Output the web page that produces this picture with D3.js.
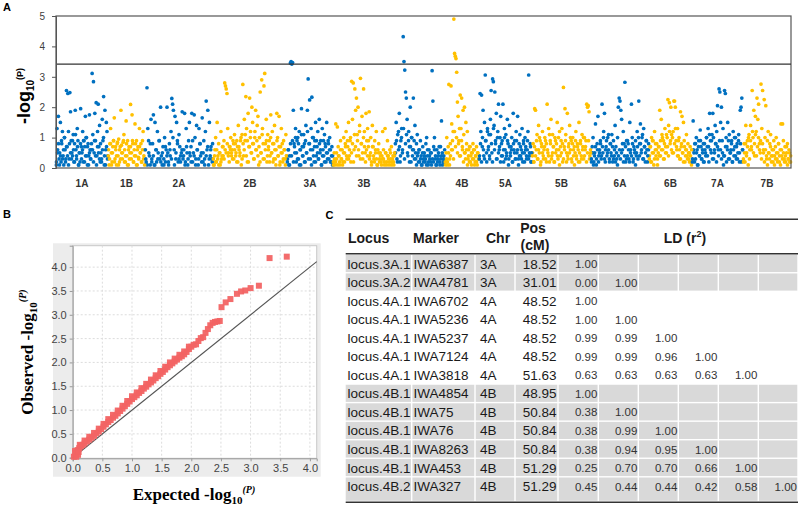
<!DOCTYPE html>
<html><head><meta charset="utf-8">
<script src="https://cdn.jsdelivr.net/npm/d3@7"></script>
<style>body{margin:0;background:#fff}svg{display:block;font-family:"Liberation Sans",Arial,sans-serif}</style>
</head><body><svg id="c" width="800" height="506"></svg>
<script>
// ---------- Panel A data ----------
const chrNames = ["1A","1B","2A","2B","3A","3B","4A","4B","5A","5B","6A","6B","7A","7B"];
const chrLengths = [52,37,68,74,46,62,50,34,53,59,58,43,51,48];
// markers in map order (values = -log10 P)
const v1A = [.1,1.3,.6,1.7,.3,.5,1.5,.2,.8,1.2,.4,.1,1.0,.6,.3,2.55,.7,2.45,1.2,.3,2.48,1.85,.9,.5,.4,1.1,.2,.8,1.9,.6,.3,1.3,.9,.1,.5,.2,1.95,.7,.5,1.2,.2,.9,.7,1.7,1.0,.4,.1,.8,.4,1.75,.6,.3,.6,3.11,1.1,2.84,.5,1.8,.9,2.15,.4,1.2,2.1,.7,1.4,.2,.5,.3,1.6,.9,2.35,.1,1.9,.6,1.5,1.2,.4];
const v1B = [.4,.1,.8,1.3,.5,.2,.7,.9,1.65,.3,.6,.1,.8,.4,.95,.2,.7,1.9,.5,.3,.85,1.1,.6,.2,1.55,.4,.9,.1,.7,.5,2.09,.3,1.75,.8,.2,.6,1.45,.4,.9,.1,.7,.3,1.3,.5,.8,.2,.6,1.2,.4,.1];
const v2A = [.6,.2,2.64,1.3,.9,.4,.1,1.6,.3,.8,1.75,.1,1.5,.6,.2,1.2,.5,.9,.3,2.0,.4,.1,.7,.3,1.0,.2,.6,2.0,.5,.1,.8,.4,1.2,2.29,2.1,1.9,.6,1.7,.3,1.5,.9,.2,1.1,.7,.4,.5,1.85,.3,.6,1.8,.2,1.3,.5,.1,.9,1.5,.4,.7,1.8,.2,.5,1.75,1.0,.3,1.4,.6,.1,1.3,.8,.4,.5,1.65,.2,.9,.3,1.2,2.2,.6,1.9,.1,1.5,.4,.7,.3,.8];
const v2B = [.3,.1,.6,1.0,.2,1.5,.4,.8,.5,.1,1.2,.3,.7,.4,.9,2.8,2.7,2.6,2.45,1.3,.5,.2,.7,1.0,.4,.6,.9,.3,1.1,.8,.5,.2,.7,1.4,.6,.4,.9,.1,1.1,2.75,.4,1.6,.9,2.35,1.3,.2,1.8,.7,2.3,1.0,.5,2.0,1.5,.8,.3,1.2,1.9,.6,1.4,1.7,.1,1.0,2.5,.5,2.9,1.3,.3,2.7,3.11,.8,1.6,.2,1.1,.6,.9,.4,1.75,.5,1.2,.2,.8,1.4,.3,.6,1.8,1.0,.4,1.7,.1,.7,1.3,.5,.2,.9,.6,.3,1.1,.4];
const v3A = [.2,.6,.1,.4,3.45,3.5,3.42,3.47,1.9,.8,.5,1.3,.2,.9,1.0,.3,1.2,.6,.1,1.95,.7,.4,1.1,.8,.2,1.4,.5,1.9,2.93,.8,2.24,.3,1.3,2.33,.6,1.0,.2,.9,1.5,.4,.7,1.2,.3,1.6,.5,.9,.1,1.3,.6,.4,1.1,.8,.2,1.5,.5,.9,.3,1.0,.6,.2,.7,.4];
const v3B = [.2,.5,.1,1.45,.3,1.35,.7,.4,.1,.9,.3,.6,.2,1.0,.5,.8,1.2,.3,.7,1.5,.4,.9,.2,2.85,1.6,2.8,.6,2.6,1.9,2.3,1.1,2.0,.4,1.4,2.95,.8,1.7,.3,2.6,1.2,.5,1.8,.9,1.3,.7,1.85,.4,1.0,.2,1.4,.7,.3,.9,.5,1.2,.1,.6,.8,.3,.5,.2,.4,1.2,.3,.1,1.3,.5,.2,.9,.4,.1,.6,.3,.7,.2,.4,.1,.5];
const v4A = [.8,1.5,.3,1.1,.6,1.8,.2,.9,1.3,.5,4.32,3.5,3.22,2.5,2.3,1.6,.4,1.2,.7,2.0,.2,1.0,.6,2.3,.9,1.4,.3,.8,1.1,.5,.6,.2,.9,.4,.1,.7,.3,.5,.2,.8,1.0,.4,.1,.6,.3,.2,.5,3.2,2.2,.7,1.0,.3,.1,.6,.2,.4,.7,.1,.3,1.55,.5,.2,.4,.6];
const v4B = [.2,.5,1.0,.1,.7,2.75,.3,.8,2.7,1.45,.6,1.2,4.9,3.77,3.68,3.6,3.15,2.17,1.7,.9,.4,2.4,1.3,2.3,.7,1.9,1.1,2.0,.5,1.5,.8,1.2,.3,.6,.2,.7,.4,.1,.5,.8,.3,.6,.2,.4,.7,.1,.5,.3];
const v5A = [.3,2.45,1.2,2.4,.7,1.9,.4,1.5,3.06,.9,.2,1.3,.6,1.1,.3,1.6,2.55,.5,2.93,2.84,1.4,2.5,.8,1.8,.3,1.2,2.1,.6,1.0,1.7,.4,.9,2.1,.2,1.3,.6,1.1,.4,1.6,.8,.3,1.4,.5,.7,1.0,.2,1.8,.6,.9,.3,1.2,.5,1.7,.3,.8,1.1,.4,.6,1.3,.2,.9,.5,1.0,.7,.3,.6,1.2,3.06,.4,.8,.2,.5];
const v5B = [.4,.8,.2,1.95,1.9,.6,1.1,.3,1.4,.5,.9,.2,.7,1.2,.4,.6,1.0,.3,.8,2.1,.5,1.3,.2,.9,1.6,.4,1.1,.7,.2,1.0,.5,.8,1.5,.3,.6,1.2,.4,.9,1.3,.2,2.65,.7,1.95,1.1,.5,1.8,.3,.8,1.4,.6,.9,.2,1.0,.4,.7,.5,1.2,.3,.8,.6,1.5,.2,.9,.4,1.1,.7,.3,1.0,.6,.9,2.1,2.0,2.05,1.85,.4,.5];
const v6A = [.3,.7,1.0,.2,.5,1.45,.1,.8,1.7,.4,.6,.9,.3,2.1,.5,1.2,1.8,.2,.7,.4,1.0,.6,.3,.8,.5,1.1,.2,.9,.4,1.4,.7,.3,1.0,2.0,2.3,2.2,1.9,1.6,.6,1.2,.8,2.82,.2,.9,.4,.8,.3,1.5,.6,2.1,1.0,.2,.7,.5,.9,.4,1.2,.3,2.2,.8,1.45,.5,1.0,.3,1.3,.7,.2,.9,.6,.4,.8];
const v6B = [.3,.7,.2,1.0,.5,.9,.1,1.2,.6,.4,.8,.3,.5,.7,1.9,.4,1.6,1.1,.6,.9,.3,1.3,.7,.5,1.0,2.25,1.4,2.15,.8,2.0,1.1,.5,1.2,2.2,2.2,2.0,.9,.6,1.3,.4,1.0,.3,1.85,.7,1.7,.5,1.5,.9,.2,.6,1.1,.4,.8,.3,.5,.7,.2,.6];
const v7A = [.2,1.55,.5,.8,.3,1.0,.6,.1,.9,.4,1.25,.7,.3,.5,.8,.2,.6,.4,1.0,.7,1.3,.2,1.8,.9,.5,1.1,1.8,.3,.6,1.4,.8,1.2,2.05,.6,2.6,2.5,1.5,2.0,.9,1.3,.4,2.55,2.45,1.0,.7,1.5,.3,1.1,.5,.6,.9,.2,1.2,.4,.7,1.0,.3,.8,.5,1.1,.2,1.9,2.0,2.3,.6];
const v7B = [.3,.8,.2,1.4,.5,.9,.1,1.1,.6,1.4,.7,2.55,1.0,1.9,.4,1.7,1.2,2.3,1.6,2.1,.8,.5,2.76,1.3,2.55,.6,2.25,1.0,2.05,.3,.9,1.2,.5,.8,1.1,.4,.6,.2,.9,.4,.7,1.0,.3,.5,.8,.2,.6,1.45,.4,1.45,.9,.3,.7,.2,.5,.8,.3,.6,.2,.4];
// dense low-significance markers of each chromosome (map order)
const w1A = [.2,.5,.8,.1,.4,.9,.3,.6,1.0,.2,.7,.4,.1,.8,.5,.3,.9,.6,.2,1.1,.4,.7,.1,.5,.8,.3,.6,.9,.2,.4,1.0,.7,.1,.5,.3,.8,.6,.2,.9,.4,.1,.7,.5,.3,.8,.2,.6,1.0,.4,.1,.7,.3];
const w1B = [.6,.3,.8,.1,.5,.9,.2,.7,.4,.85,.1,.6,.3,.75,.5,.9,.2,.4,.8,.1,.6,.3,.7,.5,.9,.2,.4,.8,.1,.6,.35,.7,.5,.2,.9,.3,.6];
const w2A = [.3,.1,.5,.8,.2,.4,.1,.6,.3,.9,.2,.5,.1,.7,.4,.2,.6,.3,1.0,.1,.5,.8,.3,.2,.6,.4,.1,.7,.3,.5,.2,.9,.4,.1,.6,.3,.8,.2,.5,.1,.4,.7,.3,.6,.2];
const w2B = [.1,.4,.2,.6,.3,.1,.5,.2,.4,.7,.3,.6,.5,.8,.4,.7,.6,.5,.3,.8,.6,.4,.9,.2,.7,.5,1.0,.3,.8,.6,1.1,.4,.9,.2,.7,1.2,.5,.8,.3,1.0,.6,.9,.4,.7,.2,.5,1.1,.8,.3,.6,.9,.4,.7,.2,1.0,.5,.8,.3,.6,.1,.9,.4,.7,.2,.5,.8,.3,.6,.1,.4];
const w3A = [.3,.6,.1,.8,.4,.9,.2,.7,1.0,.5,.3,.8,.1,.6,1.1,.4,.7,.2,.9,.5,1.2,.3,.8,.6,.1,1.0,.4,.7,.2,.9,.5,.3,.8,.6,.1,.4,.9,.2,.7,.5,.3,.8,.6,.2,.4,.1];
const w3B = [.1,.3,.2,.5,.1,.4,.2,.6,.3,.1,.5,.2,.7,.4,.9,.3,.6,1.0,.5,.8,.2,1.1,.7,.4,.9,.6,1.2,.3,.8,.5,1.0,.7,.2,.6,.4,.9,.3,.5,.1,.7,.4,.2,.6,.3,.1,.5,.2,.4,.1,.3,.6,.2,.5,.1,.4,.3,.2,.5,.1,.3,.2,.4];
const w4A = [.5,.9,.2,1.2,.7,.4,1.0,.6,1.3,.3,.8,1.1,.5,.9,.2,.7,1.0,.4,.6,.3,.5,.1,.4,.2,.6,.3,.1,.5,.2,.4,.3,.1,.6,.2,.4,.5,.1,.3,.2,.6,.4,.1,.3,.5,.2,.7,.4,.1,.3,.2];
const w4B = [.1,.3,.2,.5,.1,.4,.6,.9,.3,1.2,.7,1.0,.5,.8,1.3,.4,.9,.6,.2,.5,.3,.6,.1,.4,.7,.2,.5,.3,.6,.1,.4,.2,.5,.3];
const w5A = [.4,.8,.2,1.0,.6,.3,.9,.5,1.2,.7,.4,1.1,.8,.2,1.3,.6,.9,.3,1.0,.5,.7,.2,.8,.4,.6,1.0,.3,.5,.9,.1,.7,.4,.6,.2,.8,.5,.3,.9,.6,.1,.4,.7,.3,.5,.8,.2,.6,.4,.9,.3,.5,.7,.2];
const w5B = [.5,.2,.7,.4,.9,.3,.6,1.0,.1,.8,.5,.3,.7,.9,.2,.6,.4,1.1,.8,.3,.5,.7,.2,.9,.6,.4,1.0,.1,.7,.5,.8,.3,.6,.9,.2,.4,.7,.5,1.0,.3,.8,.6,.1,.9,.4,.7,.2,.5,.8,.3,.6,1.0,.4,.7,.2,.5,.9,.3,.6];
const w6A = [.2,.5,.1,.4,.7,.3,.6,.2,.5,.8,.4,.7,1.0,.3,.6,.9,.5,1.1,.2,.8,.4,.7,.3,.6,.2,.5,.1,.4,.6,.3,.5,.8,.2,.4,.7,.3,.9,.6,.2,.5,.4,.8,.3,.6,.1,.5,.7,1.0,.4,.8,.6,1.1,.3,.7,.5,.9,.2,.6];
const w6B = [.4,.7,.2,.9,.5,.3,.8,.6,.1,.7,.4,.9,.6,1.0,.3,.8,.5,1.1,.7,.4,1.2,.9,.6,1.0,.5,.8,1.3,.7,.4,.9,.6,.3,.8,.5,.2,.7,.4,.6,.3,.5,.2,.4,.1];
const w7A = [.3,.6,.2,.8,.5,.1,.7,.4,.9,.3,.6,.2,.8,.5,1.0,.4,.7,1.1,.6,.9,.3,1.0,.5,.8,.2,.7,.4,.9,.6,.3,.5,.1,.4,.7,.2,.6,.9,.3,.5,.8,.2,.6,1.0,.4,.7,.3,.9,.5,.8,.2,.6];
const w7B = [.2,.5,.8,.4,.7,1.0,.3,.9,.6,1.2,.5,.8,1.1,.4,.7,1.0,.6,.9,.3,.8,.5,.2,.6,.4,.1,.5,.3,.7,.2,.4,.6,.1,.3,.5,.2,.8,.4,.1,.6,.3,.5,.2,.4,.7,.1,.3,.5,.2];
const manhattanSeries = [v1A,v1B,v2A,v2B,v3A,v3B,v4A,v4B,v5A,v5B,v6A,v6B,v7A,v7B];
const manhattanLow = [w1A,w1B,w2A,w2B,w3A,w3B,w4A,w4B,w5A,w5B,w6A,w6B,w7A,w7B];
const yTicksA = [0,1,2,3,4,5];
const thresholdA = 3.42;

// ---------- Panel B data ----------
const qqExpected = [0.02,0.05,0.08,0.11,0.14,0.17,0.2,0.24,0.28,0.32,0.36,0.4,0.44,0.48,0.52,0.56,0.6,0.64,0.68,0.72,0.76,0.8,0.84,0.88,0.92,0.96,1.0,1.04,1.08,1.12,1.16,1.2,1.24,1.28,1.32,1.36,1.4,1.44,1.48,1.52,1.56,1.6,1.64,1.68,1.72,1.76,1.8,1.84,1.88,1.92,1.96,2.0,2.04,2.08,2.12,2.16,2.2,2.24,2.28,2.32,2.36,2.4,2.44,2.48,2.51,2.58,2.66,2.77,2.84,2.91,3.0,3.14,3.32,3.61,
  0.04,0.06,0.09,0.1,0.12,0.2,0.28,0.36,0.44,0.52,0.6,0.68,0.76,0.84,0.92,1.0,1.08,1.16,1.24,1.32,1.4,1.48,1.56,1.64,1.72,1.8,1.88,1.96];
const qqObserved = [0.02,0.10,0.16,0.20,0.24,0.27,0.30,0.34,0.38,0.42,0.46,0.51,0.55,0.60,0.65,0.70,0.75,0.79,0.84,0.88,0.93,0.98,1.03,1.08,1.13,1.18,1.23,1.27,1.31,1.36,1.40,1.45,1.49,1.54,1.58,1.62,1.67,1.71,1.76,1.80,1.85,1.90,1.94,1.98,2.02,2.06,2.10,2.13,2.17,2.22,2.28,2.33,2.37,2.38,2.45,2.51,2.53,2.62,2.70,2.78,2.83,2.85,2.86,2.87,3.16,3.26,3.33,3.44,3.49,3.51,3.56,3.61,4.19,4.22,
  0.14,0.02,0.06,0.12,0.27,0.36,0.44,0.52,0.61,0.71,0.81,0.90,0.99,1.09,1.19,1.29,1.37,1.46,1.55,1.64,1.73,1.82,1.91,2.00,2.08,2.16,2.23,2.33];
const qqTicks = [0,0.5,1,1.5,2,2.5,3,3.5,4];

// ---------- Panel C data ----------
const tableLocus = ["locus.3A.1","locus.3A.2","locus.4A.1","locus.4A.1","locus.4A.1","locus.4A.1","locus.4A.1","locus.4B.1","locus.4B.1","locus.4B.1","locus.4B.1","locus.4B.1","locus.4B.2"];
const tableMarker = ["IWA6387","IWA4781","IWA6702","IWA5236","IWA5237","IWA7124","IWA3818","IWA4854","IWA75","IWA76","IWA8263","IWA453","IWA327"];
const tableChr = ["3A","3A","4A","4A","4A","4A","4A","4B","4B","4B","4B","4B","4B"];
const tablePos = ["18.52","31.01","48.52","48.52","48.52","48.52","51.63","48.95","50.84","50.84","50.84","51.29","51.29"];
const tableLD = [["1.00"],["0.00","1.00"],["1.00"],["1.00","1.00"],["0.99","0.99","1.00"],["0.99","0.99","0.96","1.00"],["0.63","0.63","0.63","0.63","1.00"],["1.00"],["0.38","1.00"],["0.38","0.99","1.00"],["0.38","0.94","0.95","1.00"],["0.25","0.70","0.70","0.66","1.00"],["0.45","0.44","0.44","0.42","0.58","1.00"]];
const shadedChr = ["3A","4B"];

const svg = d3.select("#c");
const FONT = "'Liberation Sans',Arial,sans-serif";
const SERIF = "'Liberation Serif','Times New Roman',serif";

// ================= Panel A =================
const A = {l:56, r:791, t:16, b:168};
const cum = []; let tot = 0;
chrLengths.forEach(l => { cum.push(tot); tot += l; });
const xA = d3.scaleLinear().domain([0, tot]).range([A.l, A.r]);
const yA = d3.scaleLinear().domain([0, 5]).range([A.b, A.t]);
const pts = [];
[manhattanLow, manhattanSeries].forEach(series => series.forEach((arr, c) => arr.forEach((v, i) =>
  pts.push({p: cum[c] + (i + 0.5) / arr.length * chrLengths[c], v, c}))));
const gA = svg.append("g");
gA.append("g").selectAll("circle").data(pts).join("circle")
  .attr("cx", d => xA(d.p)).attr("cy", d => yA(d.v)).attr("r", 1.85)
  .attr("fill", d => d.c % 2 ? "#ffc000" : "#0070c0");
gA.append("rect").attr("x", A.l).attr("y", A.t).attr("width", A.r - A.l).attr("height", A.b - A.t)
  .attr("fill", "none").attr("stroke", "#555").attr("stroke-width", 1.2);
gA.append("line").attr("x1", A.l).attr("x2", A.r).attr("y1", yA(thresholdA)).attr("y2", yA(thresholdA))
  .attr("stroke", "#333").attr("stroke-width", 1.2);
const axA = gA.append("g").attr("transform", `translate(${A.l},0)`)
  .call(d3.axisLeft(yA).tickValues(yTicksA).tickSize(4).tickPadding(7).tickFormat(d3.format("d")));
axA.select(".domain").attr("stroke", "#555");
axA.selectAll(".tick line").attr("stroke", "#555");
axA.selectAll("text").attr("font-size", 10).attr("fill", "#404040").attr("font-family", FONT);
gA.append("g").selectAll("text").data(chrNames).join("text")
  .attr("x", (d, i) => xA(cum[i] + chrLengths[i] / 2)).attr("y", 186.5)
  .attr("text-anchor", "middle").attr("font-size", 10).attr("font-weight", "bold").attr("fill", "#333")
  .text(d => d);
const tA = gA.append("text").attr("transform", "translate(30,96) rotate(-90)")
  .attr("text-anchor", "middle").attr("font-size", 18).attr("font-weight", "bold").attr("fill", "#000");
tA.append("tspan").text("-log");
tA.append("tspan").attr("font-size", 10).attr("dy", 4).text("10");
tA.append("tspan").attr("font-size", 9).attr("dy", -11).text("(P)");
svg.append("text").attr("x", 3).attr("y", 11).attr("font-size", 11).attr("font-weight", "bold").text("A");

// ================= Panel B =================
const B = {l:72.7, r:316.7, t:245.7, b:458.3};
const xB = d3.scaleLinear().domain([0, 4.115]).range([B.l, B.r]);
const yB = d3.scaleLinear().domain([0, 4.45]).range([457.7, 245.7]);
const gB = svg.append("g");
gB.append("rect").attr("x", 53).attr("y", 243.3).attr("width", 267.7).attr("height", 233.4).attr("fill", "#ececec");
gB.append("rect").attr("x", B.l).attr("y", B.t).attr("width", B.r - B.l).attr("height", B.b - B.t)
  .attr("fill", "#fff").attr("stroke", "#c8c8c8").attr("stroke-width", 1);
gB.append("g").selectAll("line").data(qqTicks.slice(1)).join("line")
  .attr("x1", d => xB(d)).attr("x2", d => xB(d)).attr("y1", B.t).attr("y2", B.b)
  .attr("stroke", "#dcdcdc").attr("stroke-dasharray", "2,2");
gB.append("g").selectAll("line").data(qqTicks.slice(1)).join("line")
  .attr("y1", d => yB(d)).attr("y2", d => yB(d)).attr("x1", B.l).attr("x2", B.r)
  .attr("stroke", "#dcdcdc").attr("stroke-dasharray", "2,2");
const axBx = gB.append("g").attr("transform", `translate(0,${B.b})`)
  .call(d3.axisBottom(xB).tickValues(qqTicks).tickSize(3).tickPadding(3).tickFormat(d3.format(".1f")));
const axBy = gB.append("g").attr("transform", `translate(${B.l},0)`)
  .call(d3.axisLeft(yB).tickValues(qqTicks).tickSize(3).tickPadding(3).tickFormat(d3.format(".1f")));
[axBx, axBy].forEach(ax => {
  ax.select(".domain").attr("stroke", "#999");
  ax.selectAll(".tick line").attr("stroke", "#999");
  ax.selectAll("text").attr("font-size", 11).attr("fill", "#444").attr("font-family", FONT);
});
gB.append("line").attr("x1", xB(0)).attr("y1", yB(0)).attr("x2", xB(4.115)).attr("y2", yB(4.115))
  .attr("stroke", "#555").attr("stroke-width", 1.1);
const qq = qqExpected.map((e, i) => ({e, o: qqObserved[i]}));
gB.append("g").selectAll("rect").data(qq).join("rect")
  .attr("x", d => xB(d.e) - 3).attr("y", d => yB(d.o) - 3).attr("width", 6).attr("height", 6)
  .attr("fill", "#f26464").attr("fill-opacity", 0.95);
const tBy = gB.append("text").attr("transform", "translate(33,352) rotate(-90)")
  .attr("text-anchor", "middle").attr("font-family", SERIF).attr("font-size", 17).attr("font-weight", "bold");
tBy.append("tspan").text("Observed -log");
tBy.append("tspan").attr("font-size", 11).attr("dy", 4).text("10");
tBy.append("tspan").attr("font-size", 10).attr("font-style", "italic").attr("dy", -11).text("(P)");
const tBx = gB.append("text").attr("x", 194).attr("y", 500)
  .attr("text-anchor", "middle").attr("font-family", SERIF).attr("font-size", 17).attr("font-weight", "bold");
tBx.append("tspan").text("Expected -log");
tBx.append("tspan").attr("font-size", 11).attr("dy", 4).text("10");
tBx.append("tspan").attr("font-size", 10).attr("font-style", "italic").attr("dy", -11).text("(P)");
svg.append("text").attr("x", 3).attr("y", 218).attr("font-size", 11).attr("font-weight", "bold").text("B");

// ================= Panel C =================
const gC = svg.append("g");
svg.append("text").attr("x", 325.5).attr("y", 219).attr("font-size", 11).attr("font-weight", "bold").text("C");
const colEdges = [345.7, 411.7, 475, 515, 558, 598.3, 638.3, 678.3, 718.3, 758.3, 798];
const rowTop0 = 254.2, rowH = 18.55, tableBottom = 502.3;
const nRows = tableLocus.length;
const rowTop = i => rowTop0 + i * rowH;
const rowBot = i => i === nRows - 1 ? tableBottom - 0.8 : rowTop(i + 1);
tableLocus.forEach((loc, i) => {
  if (shadedChr.includes(tableChr[i])) {
    for (let j = 0; j < colEdges.length - 1; j++) {
      gC.append("rect").attr("x", colEdges[j] + (j ? 0.7 : 0)).attr("y", rowTop(i) + 0.7)
        .attr("width", colEdges[j + 1] - colEdges[j] - (j ? 1.4 : 0.7)).attr("height", rowBot(i) - rowTop(i) - 1.4)
        .attr("fill", "#d9d9d9");
    }
  }
  const base = rowTop(i) + 14.3;
  gC.append("text").attr("x", 347.5).attr("y", base).attr("font-size", 13.5).attr("fill", "#1a1a1a").text(loc);
  gC.append("text").attr("x", 413.5).attr("y", base).attr("font-size", 13.5).attr("fill", "#1a1a1a").text(tableMarker[i]);
  gC.append("text").attr("x", 480).attr("y", base).attr("font-size", 13.5).attr("fill", "#1a1a1a").text(tableChr[i]);
  gC.append("text").attr("x", 556.5).attr("y", base).attr("text-anchor", "end").attr("font-size", 13.5).attr("fill", "#1a1a1a").text(tablePos[i]);
  tableLD[i].forEach((v, k) => {
    gC.append("text").attr("x", colEdges[5 + k] - 1).attr("y", base - 0.5).attr("text-anchor", "end")
      .attr("font-size", 11.5).attr("fill", "#333").text(v);
  });
});
const hdr = (x, y, t, anchor) => gC.append("text").attr("x", x).attr("y", y).attr("text-anchor", anchor || "start")
  .attr("font-size", 14).attr("font-weight", "bold").attr("fill", "#1a1a1a").text(t);
hdr(348, 243, "Locus"); hdr(413, 243, "Marker"); hdr(486, 243, "Chr");
hdr(533, 233, "Pos", "middle"); hdr(535, 250, "(cM)", "middle");
const ld = gC.append("text").attr("x", 685).attr("y", 243).attr("text-anchor", "middle")
  .attr("font-size", 14).attr("font-weight", "bold").attr("fill", "#1a1a1a");
ld.append("tspan").text("LD (r");
ld.append("tspan").attr("font-size", 9).attr("dy", -6).text("2");
ld.append("tspan").attr("dy", 6).text(")");
[219.3, 253.7, tableBottom].forEach(y => {
  gC.append("line").attr("x1", 345.7).attr("x2", 798).attr("y1", y).attr("y2", y)
    .attr("stroke", "#333").attr("stroke-width", 1.5);
});
</script></body></html>
